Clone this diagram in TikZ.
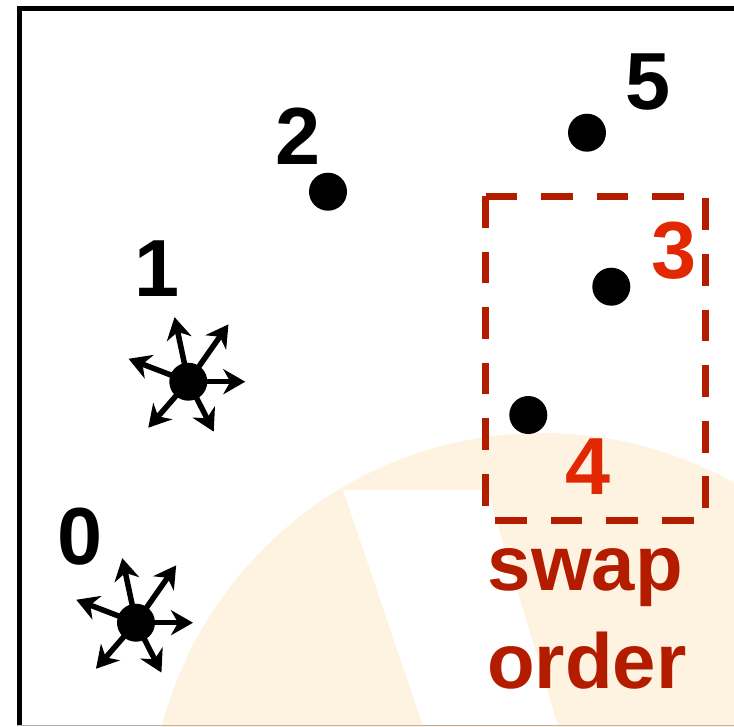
\documentclass[tikz,border=0pt]{standalone}
\usepackage{fontspec}
\setmainfont{Liberation Sans}
\usetikzlibrary{arrows.meta}
\definecolor{beige}{RGB}{254,242,224}
\definecolor{boxred}{RGB}{180,28,0}
\definecolor{numred}{RGB}{226,40,2}
\begin{document}
\begin{tikzpicture}[x=1pt,y=-1pt,
  dot/.style={circle,fill=black,minimum size=38pt,inner sep=0pt},
  ray/.style={line width=5.5pt,-{Stealth[length=22pt,width=25pt,inset=7pt]}},
  lbl/.style={font=\fontsize{81}{97}\selectfont\bfseries,inner sep=0pt},
  note/.style={font=\fontsize{78}{97}\selectfont\bfseries,text=boxred,inner sep=0pt,anchor=base west},
  frame/.style={line width=5.5pt}]
\useasboundingbox (0,0) rectangle (734,726);
% background watermark
\begin{scope}
\clip (0,0) rectangle (734,726);
\fill[beige] (542,826) circle[radius=393pt];
\fill[white] (343,490) -- (487,490) -- (558,726) -- (423,726) -- cycle;
\end{scope}
% frame
\draw[frame] (19.5,726) -- (19.5,8.5) -- (734,8.5);
\draw[gray!60,line width=1.5pt] (17,725.5) -- (734,725.5);
% swap box
\draw[boxred,line width=7pt,dash pattern=on 31.7pt off 23.9pt]
  (485.5,196) -- (705.5,196) -- (705.5,520) -- (485.5,520) -- cycle;
% dots
\node[dot] (d0) at (136,622.7) {};
\node[dot] (d1) at (188.3,381.7) {};
\node[dot] (d2) at (328,191.7) {};
\node[dot] (d3) at (611.3,286.7) {};
\node[dot] (d4) at (528.3,415) {};
\node[dot] (d5) at (587,132.7) {};
% rays
\foreach \n in {d0,d1}{
  \draw[ray] (\n.center) -- ++(102:66pt);
  \draw[ray] (\n.center) -- ++(55:70pt);
  \draw[ray] (\n.center) -- ++(0:57pt);
  \draw[ray] (\n.center) -- ++(-63:56pt);
  \draw[ray] (\n.center) -- ++(-131:61pt);
  \draw[ray] (\n.center) -- ++(159:64pt);
}
% labels
\node[lbl] (l0) at (80.5,537) {0};
\node[lbl] (l1) at (157,269) {1};
\node[lbl] (l2) at (298,136.5) {2};
\node[lbl] (l5) at (648.5,82.5) {5};
\node[lbl,text=numred] (l3) at (674,251) {3};
\node[lbl,text=numred] (l4) at (588,467) {4};
\node[note] (sw) at (487.5,590) {swap};
\node[note] (or) at (487,688) {order};
\end{tikzpicture}
\end{document}
